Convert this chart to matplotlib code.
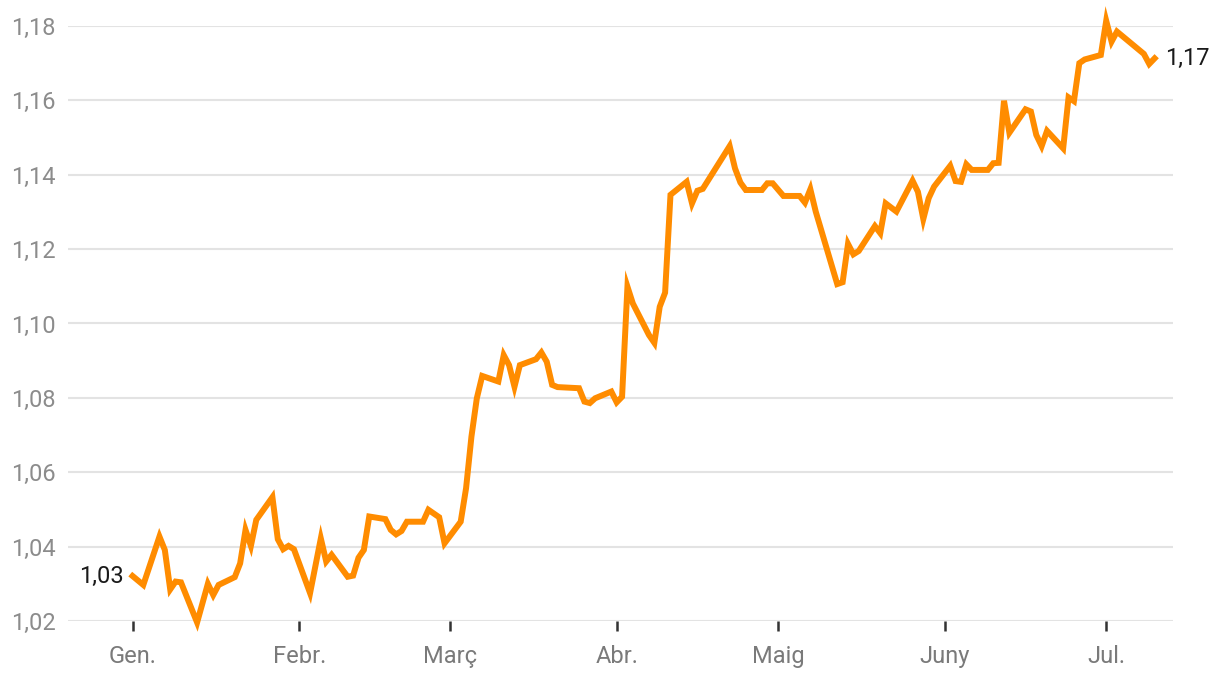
import numpy as np
import pandas as pd
import matplotlib
matplotlib.use('Agg')
import matplotlib.pyplot as plt
import matplotlib.dates as mdates

plt.rcParams['font.family'] = ['Roboto', 'DejaVu Sans']

# EUR/USD, 2025
dates = [
    '2025-01-01', '2025-01-03', '2025-01-06', '2025-01-07', '2025-01-08', '2025-01-09', '2025-01-10',
    '2025-01-13', '2025-01-15', '2025-01-16', '2025-01-17', '2025-01-20', '2025-01-21', '2025-01-22',
    '2025-01-23', '2025-01-24', '2025-01-27', '2025-01-28', '2025-01-29', '2025-01-30', '2025-01-31',
    '2025-02-03', '2025-02-05', '2025-02-06', '2025-02-07', '2025-02-10', '2025-02-11', '2025-02-12',
    '2025-02-13', '2025-02-14', '2025-02-17', '2025-02-18', '2025-02-19', '2025-02-20', '2025-02-21',
    '2025-02-24', '2025-02-25', '2025-02-27', '2025-02-28', '2025-03-03', '2025-03-04', '2025-03-05',
    '2025-03-06', '2025-03-07', '2025-03-10', '2025-03-11', '2025-03-12', '2025-03-13', '2025-03-14',
    '2025-03-17', '2025-03-18', '2025-03-19', '2025-03-20', '2025-03-21', '2025-03-25', '2025-03-26',
    '2025-03-27', '2025-03-28', '2025-03-31', '2025-04-01', '2025-04-02', '2025-04-03', '2025-04-04',
    '2025-04-07', '2025-04-08', '2025-04-09', '2025-04-10', '2025-04-11', '2025-04-14', '2025-04-15',
    '2025-04-16', '2025-04-17', '2025-04-22', '2025-04-23', '2025-04-24', '2025-04-25', '2025-04-28',
    '2025-04-29', '2025-04-30', '2025-05-02', '2025-05-05', '2025-05-06', '2025-05-07', '2025-05-08',
    '2025-05-12', '2025-05-13', '2025-05-14', '2025-05-15', '2025-05-16', '2025-05-19', '2025-05-20',
    '2025-05-21', '2025-05-23', '2025-05-26', '2025-05-27', '2025-05-28', '2025-05-29', '2025-05-30',
    '2025-06-02', '2025-06-03', '2025-06-04', '2025-06-05', '2025-06-06', '2025-06-09', '2025-06-10',
    '2025-06-11', '2025-06-12', '2025-06-13', '2025-06-16', '2025-06-17', '2025-06-18', '2025-06-19',
    '2025-06-20', '2025-06-23', '2025-06-24', '2025-06-25', '2025-06-26', '2025-06-27', '2025-06-30',
    '2025-07-01', '2025-07-02', '2025-07-03', '2025-07-08', '2025-07-09', '2025-07-10',
]
values = [
    1.0321, 1.0297, 1.0427, 1.0391, 1.0285, 1.0306, 1.0304,
    1.0196, 1.0300, 1.0270, 1.0297, 1.0318, 1.0355, 1.0445,
    1.0402, 1.0472, 1.0533, 1.0420, 1.0393, 1.0402, 1.0393,
    1.0275, 1.0422, 1.0360, 1.0378, 1.0319, 1.0322, 1.0370,
    1.0391, 1.0481, 1.0474, 1.0445, 1.0433, 1.0442, 1.0467,
    1.0467, 1.0499, 1.0479, 1.0409, 1.0467, 1.0557, 1.0696,
    1.0799, 1.0859, 1.0844, 1.0915, 1.0888, 1.0830, 1.0888,
    1.0904, 1.0922, 1.0897, 1.0835, 1.0829, 1.0826, 1.0790,
    1.0786, 1.0799, 1.0817, 1.0788, 1.0803, 1.1099, 1.1054,
    1.0969, 1.0948, 1.1045, 1.1083, 1.1346, 1.1381, 1.1323,
    1.1357, 1.1362, 1.1477, 1.1417, 1.1379, 1.1359, 1.1359,
    1.1377, 1.1377, 1.1343, 1.1343, 1.1325, 1.1361, 1.1301,
    1.1106, 1.1111, 1.1214, 1.1186, 1.1195, 1.1262, 1.1243,
    1.1323, 1.1301, 1.1384, 1.1354, 1.1281, 1.1337, 1.1368,
    1.1424, 1.1383, 1.1381, 1.1428, 1.1413, 1.1413, 1.1431,
    1.1432, 1.1599, 1.1513, 1.1576, 1.1570, 1.1507, 1.1477,
    1.1518, 1.1471, 1.1608, 1.1598, 1.1700, 1.1710, 1.1722,
    1.1814, 1.1758, 1.1785, 1.1725, 1.1698, 1.1713,
]

month_ticks = ['2025-01-01', '2025-02-01', '2025-03-01', '2025-04-01',
               '2025-05-01', '2025-06-01', '2025-07-01']
month_labels = ['Gen.', 'Febr.', 'Març', 'Abr.', 'Maig', 'Juny', 'Jul.']
y_ticks = [1.02, 1.04, 1.06, 1.08, 1.10, 1.12, 1.14, 1.16, 1.18]

x = pd.to_datetime(dates)
orange = '#ff8c00'

fig = plt.figure(figsize=(12.2, 6.98), dpi=100)
ax = fig.add_axes([68 / 1220, 1 - 621 / 698, (1173 - 68) / 1220, (621 - 26) / 698])

ax.plot(x, values, color=orange, lw=4.3, solid_joinstyle='miter', clip_on=False, zorder=3)

ax.set_ylim(1.02, 1.18)
ax.set_xlim(pd.Timestamp('2024-12-20'), pd.Timestamp('2025-07-13 10:00'))

ax.set_yticks(y_ticks)
ax.set_yticklabels([f'{v:.2f}'.replace('.', ',') for v in y_ticks])
ax.set_xticks(pd.to_datetime(month_ticks))
ax.set_xticklabels(month_labels)

ax.grid(axis='y', color='#e3e3e3', lw=1.5)
ax.grid(axis='x', visible=False)
ax.set_axisbelow(True)
for s in ax.spines.values():
    s.set_visible(False)

ax.tick_params(axis='y', length=0, pad=9, labelsize=17, labelcolor='#8c8c8c')
ax.tick_params(axis='x', length=7, width=1.8, color='#333333', pad=10,
               labelsize=17, labelcolor='#7a7a7a')

# end labels
ax.annotate(f'{values[0]:.2f}'.replace('.', ','), (x[0], values[0]),
            xytext=(-9, 0), textcoords='offset pixels', ha='right', va='center',
            fontsize=17, color='#1a1a1a')
ax.annotate(f'{values[-1]:.2f}'.replace('.', ','), (x[-1], values[-1]),
            xytext=(10, 0), textcoords='offset pixels', ha='left', va='center',
            fontsize=17, color='#1a1a1a')

fig.savefig('out.png', dpi=100)
